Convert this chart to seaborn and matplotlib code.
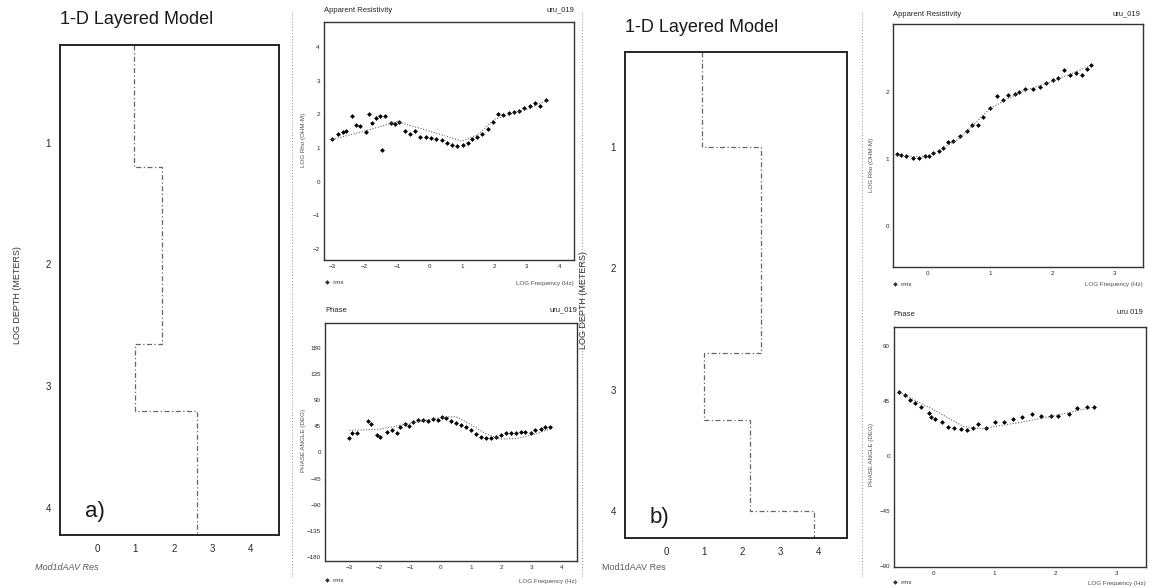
import matplotlib
matplotlib.use('Agg')
import matplotlib.pyplot as plt
import numpy as np
import pandas as pd
import seaborn as sns

# ---- data ----
# 1-D layered models (log depth of layer tops, log resistivity of each layer)
model_a_depth = [0.2, 1.2, 2.65, 3.2, 4.22]
model_a_res = [0.95, 1.7, 1.0, 2.6]
model_b_depth = [0.22, 1.0, 2.7, 3.25, 4.0, 4.22]
model_b_res = [0.95, 2.5, 1.0, 2.2, 3.9]

# site a, apparent resistivity (observed)
res_a_freq = [-3.0, -2.83, -2.67, -2.57, -2.4, -2.25, -2.15, -1.97, -1.86, -1.77, -1.64,
              -1.53, -1.46, -1.37, -1.2, -1.07, -0.93, -0.77, -0.61, -0.45, -0.28, -0.12,
              0.05, 0.21, 0.37, 0.53, 0.70, 0.86, 1.03, 1.17, 1.30, 1.46, 1.62, 1.79, 1.95,
              2.11, 2.27, 2.44, 2.6, 2.76, 2.92, 3.09, 3.25, 3.41, 3.58]
res_a_obs = [1.27, 1.42, 1.47, 1.5, 1.95, 1.68, 1.66, 1.48, 2.0, 1.75, 1.9,
             1.95, 0.95, 1.95, 1.73, 1.71, 1.78, 1.5, 1.4, 1.5, 1.33, 1.33,
             1.30, 1.27, 1.22, 1.16, 1.10, 1.07, 1.10, 1.16, 1.27, 1.32, 1.42, 1.57, 1.77,
             2.0, 1.98, 2.04, 2.08, 2.1, 2.2, 2.25, 2.33, 2.25, 2.42]
res_a_fit_freq = [-3.0, -2.0, -1.0, 0.0, 1.0, 1.5, 2.0, 3.0, 3.6]
res_a_fit = [1.25, 1.5, 1.78, 1.5, 1.2, 1.4, 1.85, 2.15, 2.4]

# site a, phase
ph_a_freq = [-3.0, -2.9, -2.75, -2.4, -2.3, -2.1, -2.0, -1.75, -1.6, -1.44, -1.33, -1.16,
             -1.03, -0.9, -0.73, -0.57, -0.4, -0.24, -0.08, 0.05, 0.2, 0.36, 0.52, 0.68,
             0.85, 1.0, 1.17, 1.33, 1.5, 1.66, 1.82, 1.99, 2.15, 2.32, 2.48, 2.65, 2.8,
             2.97, 3.13, 3.3, 3.46, 3.6]
ph_a_obs = [24.5, 33, 34, 55, 49, 30, 27, 35, 39, 34, 44, 49,
            46, 52, 56, 56, 55, 57, 56, 61, 60, 55, 50, 48,
            43, 38, 32, 26, 24.5, 24.5, 27, 30, 33, 34, 34, 35, 35,
            34, 38, 41, 44, 44]
ph_a_fit_freq = [-3.0, -2.0, -1.0, 0.0, 0.5, 1.0, 1.5, 2.0, 2.5, 3.0, 3.6]
ph_a_fit = [38, 40, 50, 60, 62, 48, 32, 23, 24, 30, 40]

# site b, apparent resistivity
res_b_freq = [-0.49, -0.43, -0.35, -0.24, -0.15, -0.05, 0.01, 0.08, 0.17, 0.24, 0.33, 0.41,
              0.51, 0.62, 0.70, 0.81, 0.89, 0.99, 1.11, 1.21, 1.29, 1.40, 1.46, 1.56, 1.69,
              1.80, 1.90, 2.0, 2.09, 2.18, 2.28, 2.37, 2.47, 2.55, 2.61]
res_b_obs = [1.07, 1.06, 1.04, 1.01, 1.01, 1.04, 1.05, 1.09, 1.12, 1.16, 1.25, 1.27,
             1.34, 1.42, 1.51, 1.51, 1.62, 1.76, 1.94, 1.87, 1.95, 1.97, 2.0, 2.03, 2.04,
             2.07, 2.12, 2.17, 2.2, 2.32, 2.24, 2.27, 2.25, 2.33, 2.4]
res_b_fit_freq = [-0.5, 0.0, 0.5, 1.0, 1.5, 2.0, 2.6]
res_b_fit = [1.05, 1.03, 1.3, 1.75, 2.0, 2.15, 2.38]

# site b, phase
ph_b_freq = [-0.55, -0.46, -0.38, -0.3, -0.19, -0.07, -0.04, 0.04, 0.14, 0.25, 0.35, 0.46,
             0.55, 0.65, 0.73, 0.87, 1.01, 1.16, 1.31, 1.45, 1.62, 1.77, 1.93, 2.04, 2.22,
             2.36, 2.53, 2.64]
ph_b_obs = [52, 50, 46, 43, 40, 35, 32, 30, 28, 24, 23, 22,
            21, 23, 26, 23, 28, 28, 30, 32, 34, 33, 33, 33, 34,
            39, 40, 40]
ph_b_fit_freq = [-0.55, 0.0, 0.5, 0.8, 1.0, 1.5, 2.0, 2.64]
ph_b_fit = [52, 38, 24, 22, 24, 28, 33, 40]

sns.set_style('white')
plt.rcParams['font.family'] = ['Liberation Sans', 'DejaVu Sans']

W, H = 1156, 588
fig = plt.figure(figsize=(W / 100, H / 100), dpi=100)


def px_axes(l, t, r, b):
    return fig.add_axes([l / W, 1 - b / H, (r - l) / W, (b - t) / H])


def ftext(x, y, s, **kw):
    fig.text(x / W, 1 - y / H, s, **kw)


def step_frame(depth, res):
    xs, ys = [], []
    for i, r in enumerate(res):
        xs += [r, r]
        ys += [depth[i], depth[i + 1]]
    return pd.DataFrame({'res': xs, 'depth': ys})


def layered(ax, depth, res, xlim, ylim):
    df = step_frame(depth, res)
    sns.lineplot(data=df, x='res', y='depth', sort=False, estimator=None, ax=ax,
                 color='0.4', lw=0.9, linestyle=(0, (4, 2, 1, 2)))
    ax.set_xlim(*xlim)
    ax.set_ylim(*ylim)
    ax.set_xticks([0, 1, 2, 3, 4])
    ax.set_yticks([1, 2, 3, 4])
    ax.set_xlabel('')
    ax.set_ylabel('')
    ax.tick_params(labelsize=7, length=3, direction='out', color='0.3')
    for s in ax.spines.values():
        s.set_linewidth(1.4)
        s.set_color('0.15')


def sounding(ax, fx, fy, ox, oy, xlim, ylim, xticks, yticks):
    sns.lineplot(x=fx, y=fy, ax=ax, color='0.4', lw=0.8, linestyle=(0, (1, 1.5)))
    sns.scatterplot(x=ox, y=oy, ax=ax, color='black', s=6, marker='D', linewidth=0)
    ax.set_xlim(*xlim)
    ax.set_ylim(*ylim)
    ax.set_xticks(xticks)
    ax.set_yticks(yticks)
    ax.tick_params(labelsize=4.5, length=2, direction='in', color='0.3', pad=3)
    for s in ax.spines.values():
        s.set_linewidth(1.0)
        s.set_color('0.2')


# ---- panel a ----
ax = px_axes(60, 45, 279, 535)
layered(ax, model_a_depth, model_a_res, (-0.96, 4.73), (4.22, 0.2))
ftext(60, 20, '1-D Layered Model', fontsize=13, va='center', color='0.1')
ftext(85, 512, 'a)', fontsize=16, va='center', color='0.1')
ftext(18, 295, 'LOG DEPTH (METERS)', fontsize=6.5, rotation=90, va='center', ha='center', color='0.2')
ftext(35, 567, 'Mod1dAAV Res', fontsize=6.5, style='italic', va='center', color='0.35')

ax = px_axes(324, 22, 574, 260)
sounding(ax, res_a_fit_freq, res_a_fit, res_a_freq, res_a_obs,
         (-3.25, 4.45), (-2.33, 4.74), range(-3, 5), range(-2, 5))
ftext(324, 10, 'Apparent Resistivity', fontsize=5.5, va='center', color='0.15')
ftext(574, 10, 'uru_019', fontsize=5.5, va='center', ha='right', color='0.15')
ftext(303, 140, 'LOG Rho (OHM-M)', fontsize=4.5, rotation=90, va='center', ha='center', color='0.3')
ftext(574, 283, 'LOG Frequency (Hz)', fontsize=4.5, va='center', ha='right', color='0.3')
ftext(325, 283, '\u25c6  rms', fontsize=4.5, va='center', color='0.2')

ax = px_axes(325, 323, 577, 561)
sounding(ax, ph_a_fit_freq, ph_a_fit, ph_a_freq, ph_a_obs,
         (-3.8, 4.5), (-187, 223), range(-3, 5), range(-180, 181, 45))
ftext(325, 311, 'Phase', fontsize=5.5, va='center', color='0.15')
ftext(577, 310, 'uru_019', fontsize=5.5, va='center', ha='right', color='0.15')
ftext(303, 440, 'PHASE ANGLE (DEG)', fontsize=4.5, rotation=90, va='center', ha='center', color='0.3')
ftext(577, 581, 'LOG Frequency (Hz)', fontsize=4.5, va='center', ha='right', color='0.3')
ftext(325, 581, '\u25c6  rms', fontsize=4.5, va='center', color='0.2')

# ---- panel b ----
ax = px_axes(625, 52, 847, 538)
layered(ax, model_b_depth, model_b_res, (-1.08, 4.76), (4.22, 0.22))
ftext(625, 28, '1-D Layered Model', fontsize=13, va='center', color='0.1')
ftext(650, 518, 'b)', fontsize=16, va='center', color='0.1')
ftext(583, 300, 'LOG DEPTH (METERS)', fontsize=6.5, rotation=90, va='center', ha='center', color='0.2')
ftext(602, 568, 'Mod1dAAV Res', fontsize=6.5, va='center', color='0.35')

ax = px_axes(893, 24, 1143, 267)
sounding(ax, res_b_fit_freq, res_b_fit, res_b_freq, res_b_obs,
         (-0.56, 3.45), (-0.6, 3.0), range(0, 4), range(0, 3))
ftext(893, 15, 'Apparent Resistivity', fontsize=5.5, va='center', color='0.15')
ftext(1140, 14, 'uru_019', fontsize=5.5, va='center', ha='right', color='0.15')
ftext(872, 165, 'LOG Rho (OHM-M)', fontsize=4.5, rotation=90, va='center', ha='center', color='0.3')
ftext(1143, 285, 'LOG Frequency (Hz)', fontsize=4.5, va='center', ha='right', color='0.3')
ftext(893, 285, '\u25c6  rms', fontsize=4.5, va='center', color='0.2')

ax = px_axes(894, 327, 1146, 567)
sounding(ax, ph_b_fit_freq, ph_b_fit, ph_b_freq, ph_b_obs,
         (-0.64, 3.49), (-91, 105.5), range(0, 4), range(-90, 91, 45))
ftext(893, 315, 'Phase', fontsize=5.5, va='center', color='0.15')
ftext(1143, 313, 'uru 019', fontsize=5.5, va='center', ha='right', color='0.15')
ftext(872, 455, 'PHASE ANGLE (DEG)', fontsize=4.5, rotation=90, va='center', ha='center', color='0.3')
ftext(1146, 583, 'LOG Frequency (Hz)', fontsize=4.5, va='center', ha='right', color='0.3')
ftext(893, 583, '\u25c6  rms', fontsize=4.5, va='center', color='0.2')

# faint dotted separators between the scanned panels
for xs in (292, 582, 862):
    fig.add_artist(plt.Line2D([xs / W, xs / W], [0.02, 0.98], transform=fig.transFigure,
                              color='0.55', lw=0.7, linestyle=(0, (1, 2))))

fig.savefig('out.png', dpi=100, facecolor='white')
